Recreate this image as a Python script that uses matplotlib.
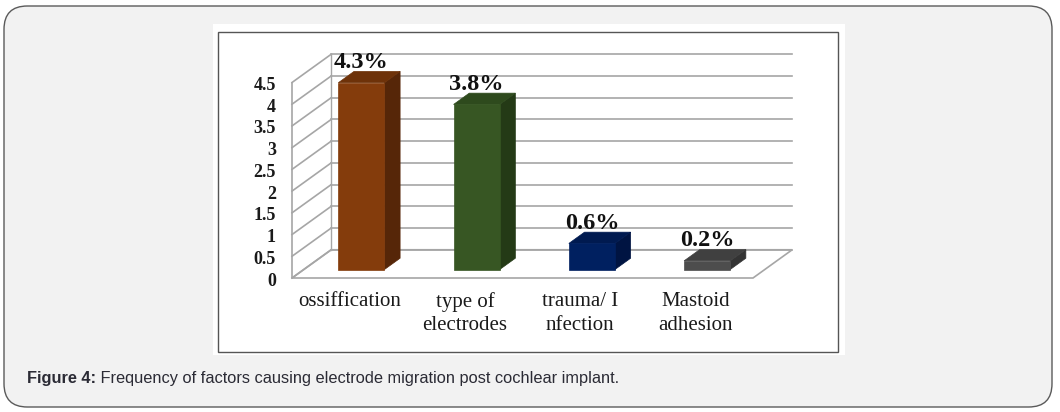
import matplotlib
matplotlib.use("Agg")
import matplotlib.pyplot as plt
from matplotlib.patches import Polygon, Rectangle, FancyBboxPatch

# chart data
categories = ["ossiffication", "type of\nelectrodes", "trauma/ I\nnfection", "Mastoid\nadhesion"]
values = [4.3, 3.8, 0.6, 0.2]
value_labels = ["4.3%", "3.8%", "0.6%", "0.2%"]
y_ticks = [0, 0.5, 1, 1.5, 2, 2.5, 3, 3.5, 4, 4.5]
y_tick_labels = ["0", "0.5", "1", "1.5", "2", "2.5", "3", "3.5", "4", "4.5"]
caption_bold = "Figure 4:"
caption_text = " Frequency of factors causing electrode migration post cochlear implant."

# bar colours: front, top, side
front_colors = ["#843c0c", "#375623", "#002060", "#4d4d4d"]
top_colors = ["#6e3209", "#2e4a1d", "#001a50", "#404040"]
side_colors = ["#562608", "#243a16", "#001442", "#333333"]

W, H = 1060, 412
SERIF = ["Liberation Serif", "DejaVu Serif"]
SANS = ["Liberation Sans", "DejaVu Sans"]

# oblique depth of the 3D box in data units
DX, DY = 0.34, 0.65
BAR_W = 0.4
DEPTH0, DEPTH1 = 0.3, 0.7
GRID = "#a6a6a6"


def px_rect(x0, y0, x1, y1):
    # pixel box (top-origin) -> figure fraction
    return x0 / W, 1 - y1 / H, (x1 - x0) / W, (y1 - y0) / H


fig = plt.figure(figsize=(W / 100, H / 100), dpi=100)
fig.patch.set_facecolor("white")

# outer rounded card
fig.patches.append(FancyBboxPatch(
    (4 / W, 5 / H), 1048 / W, 401 / H,
    boxstyle="round,pad=0,rounding_size=0.022",
    transform=fig.transFigure, facecolor="#f2f2f2",
    edgecolor="#5a5a5a", linewidth=1.0, mutation_aspect=W / H, zorder=0))

# white image panel and its thin frame
x, y, w, h = px_rect(213, 24, 845, 355)
fig.patches.append(Rectangle((x, y), w, h, transform=fig.transFigure,
                             facecolor="white", edgecolor="none", zorder=0.1))
x, y, w, h = px_rect(218, 32, 838, 352)
fig.patches.append(Rectangle((x, y), w, h, transform=fig.transFigure,
                             facecolor="none", edgecolor="#555555", linewidth=1.0,
                             zorder=0.2))

# plotting axes: front-left-bottom corner of the 3D box to front top
ax = fig.add_axes(px_rect(292, 82.5, 753, 278))
ax.set_zorder(5)
ax.set_xlim(0, len(categories))
ax.set_ylim(0, max(y_ticks))
ax.axis("off")

n = len(categories)
top = max(y_ticks)

# floor
ax.add_patch(Polygon([(0, 0), (n, 0), (n + DX, DY), (DX, DY)], closed=True,
                     facecolor="white", edgecolor=GRID, linewidth=1.2,
                     clip_on=False, zorder=1))

# back wall gridlines and side wall diagonals
for v in y_ticks:
    ax.plot([DX, n + DX], [v + DY, v + DY], color=GRID, lw=1.2,
            clip_on=False, zorder=1.5)
    ax.plot([0, DX], [v, v + DY], color=GRID, lw=1.2, clip_on=False, zorder=1.5)
ax.plot([0, 0], [0, top], color=GRID, lw=1.2, clip_on=False, zorder=1.5)
ax.plot([DX, DX], [DY, top + DY], color=GRID, lw=1.0, clip_on=False, zorder=1.5)

# y tick labels
for v, lab in zip(y_ticks, y_tick_labels):
    ax.text(-0.14, v - 0.07, lab, ha="right", va="center", fontsize=13,
            fontweight="bold", family=SERIF, color="#1a1a1a", clip_on=False)

# 3D bars
for i, v in enumerate(values):
    xl = i + 0.5 - BAR_W / 2 + DEPTH0 * DX
    xr = xl + BAR_W
    yb = DEPTH0 * DY
    ddx = (DEPTH1 - DEPTH0) * DX
    ddy = (DEPTH1 - DEPTH0) * DY
    front = [(xl, yb), (xr, yb), (xr, yb + v), (xl, yb + v)]
    side = [(xr, yb), (xr + ddx, yb + ddy), (xr + ddx, yb + v + ddy), (xr, yb + v)]
    lid = [(xl, yb + v), (xr, yb + v), (xr + ddx, yb + v + ddy), (xl + ddx, yb + v + ddy)]
    for pts, col in ((side, side_colors[i]), (lid, top_colors[i]), (front, front_colors[i])):
        ax.add_patch(Polygon(pts, closed=True, facecolor=col, edgecolor=col,
                             linewidth=0.5, clip_on=False, zorder=3))
    ax.text((xl + xr) / 2, yb + v + ddy - 0.04, value_labels[i], ha="center",
            va="bottom", fontsize=17.5, fontweight="bold", family=SERIF,
            color="#111111", clip_on=False, zorder=4)

# category labels
for i, lab in enumerate(categories):
    ax.text(i + 0.5, -0.33, lab, ha="center", va="top", fontsize=15,
            family=SERIF, color="#1a1a1a", linespacing=1.3, clip_on=False)

# caption
t1 = ax.text(27 / W, 1 - 378 / H, caption_bold, ha="left", va="center",
             fontsize=11.8, fontweight="bold", family=SANS, color="#2b2b35",
             transform=fig.transFigure, clip_on=False)
ax.annotate(caption_text, xy=(1, 0.5), xycoords=t1, ha="left", va="center",
            fontsize=11.8, family=SANS, color="#2b2b35", annotation_clip=False)

fig.savefig("out.png", dpi=100, facecolor=fig.get_facecolor())
